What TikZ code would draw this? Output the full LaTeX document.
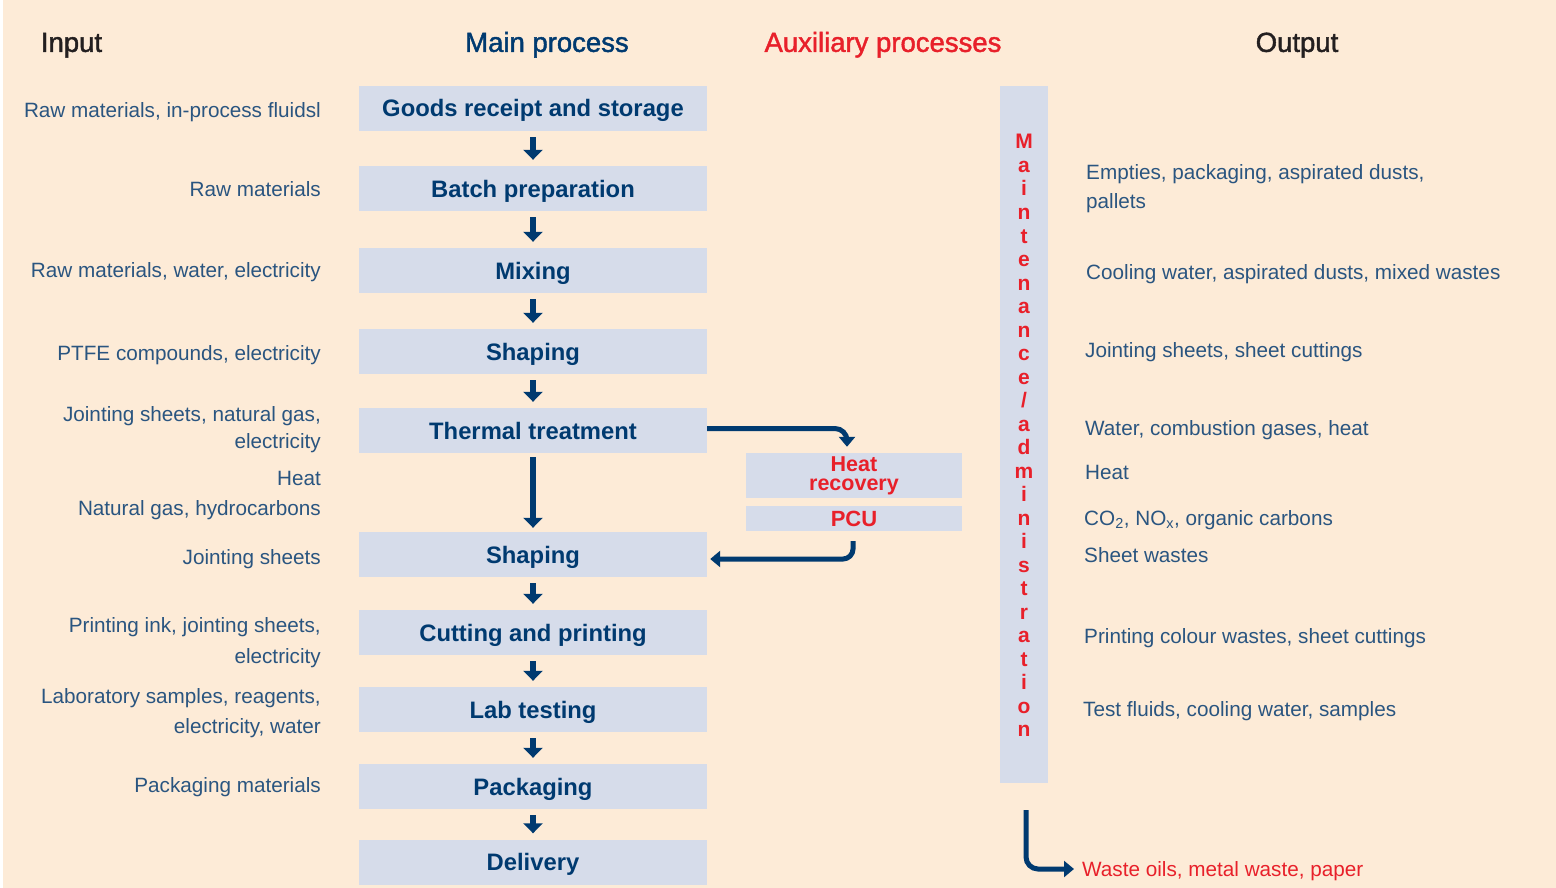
\documentclass[tikz,border=0pt]{standalone}
\usepackage{fontspec}
\setmainfont{Liberation Sans}
\newfontfamily\headfont[FakeBold=1.6]{Liberation Sans}
\usetikzlibrary{arrows.meta}
\definecolor{bgc}{RGB}{253,235,215}
\definecolor{boxc}{RGB}{214,220,234}
\definecolor{navy}{RGB}{0,58,112}
\definecolor{redc}{RGB}{232,32,42}
\definecolor{lblc}{RGB}{42,85,128}
\definecolor{headc}{RGB}{35,31,32}
\begin{document}
\begin{tikzpicture}[x=1pt,y=-1pt,
  box/.style={fill=boxc, minimum width=348pt, minimum height=45pt, inner sep=0pt, text=navy,
    font=\bfseries\fontsize{23.8}{28}\selectfont, text height=17pt, text depth=0pt},
  inl/.style={anchor=east, inner sep=0pt, text=lblc, font=\fontsize{20.7}{24}\selectfont,
    text height=14.8pt, text depth=0pt},
  outl/.style={inl, anchor=west},
  head/.style={inner sep=0pt, font=\headfont\fontsize{27.5}{32}\selectfont, text height=19.7pt, text depth=0pt},
  arr/.style={draw=navy, line width=6pt, -{Triangle[width=19pt,length=10pt]}},
  arrb/.style={draw=navy, line width=5pt, -{Triangle[width=16pt,length=10pt]}},
  auxbox/.style={fill=boxc, minimum width=216pt, inner sep=0pt, text=redc, align=center},
  letter/.style={anchor=base, inner sep=0pt, text=redc, font=\bfseries\fontsize{21}{24}\selectfont},
]
\useasboundingbox (0,0) rectangle (1556,888);
\fill[white] (0,0) rectangle (1556,888);
\fill[bgc] (3,0) rectangle (1556,888);

% headers
\node[head, text=headc] (hin) at (71.5,42) {Input};
\node[head, text=navy] (hmain) at (547,42) {Main process};
\node[head, text=redc] (haux) at (883,42) {Auxiliary processes};
\node[head, text=headc] (hout) at (1297,42) {Output};

% main process boxes
\node[box] (goods) at (533,108.5) {Goods receipt and storage};
\node[box] (batch) at (533,188.5) {Batch preparation};
\node[box] (mix) at (533,270.5) {Mixing};
\node[box] (shape1) at (533,351.5) {Shaping};
\node[box] (thermal) at (533,430.5) {Thermal treatment};
\node[box] (shape2) at (533,554.5) {Shaping};
\node[box] (cut) at (533,632.5) {Cutting and printing};
\node[box] (lab) at (533,709.5) {Lab testing};
\node[box] (pack) at (533,786.5) {Packaging};
\node[box] (deliv) at (533,862) {Delivery};

% arrows main
\draw[arr] ([yshift=-6pt]goods.south) -- ([yshift=6pt]batch.north);
\draw[arr] ([yshift=-6pt]batch.south) -- ([yshift=6pt]mix.north);
\draw[arr] ([yshift=-6pt]mix.south) -- ([yshift=6pt]shape1.north);
\draw[arr] ([yshift=-6pt]shape1.south) -- ([yshift=6pt]thermal.north);
\draw[arr] ([yshift=-4pt]thermal.south) -- ([yshift=4pt]shape2.north);
\draw[arr] ([yshift=-6pt]shape2.south) -- ([yshift=6pt]cut.north);
\draw[arr] ([yshift=-6pt]cut.south) -- ([yshift=6pt]lab.north);
\draw[arr] ([yshift=-6pt]lab.south) -- ([yshift=6pt]pack.north);
\draw[arr] ([yshift=-6pt]pack.south) -- ([yshift=6pt]deliv.north);

% auxiliary
\node[auxbox, minimum height=45pt, font=\bfseries\fontsize{21.5}{19}\selectfont] (heat) at (854,475.5) {Heat\\recovery};
\node[auxbox, minimum height=25pt, font=\bfseries\fontsize{22}{24}\selectfont, text height=15.8pt, text depth=0pt] (pcu) at (854,518.5) {PCU};
\draw[arrb, rounded corners=12pt] ([yshift=2pt]thermal.east) -| ([xshift=-7pt,yshift=6pt]heat.north);
\draw[arrb, rounded corners=10pt] ([xshift=-1pt,yshift=-10pt]pcu.south) |- ([xshift=3pt,yshift=-4.5pt]shape2.east);

% maintenance
\node[fill=boxc, minimum width=48pt, minimum height=697pt, inner sep=0pt] (maint) at (1024,434.5) {};
\foreach \c [count=\i] in {M,a,i,n,t,e,n,a,n,c,e,/,a,d,m,i,n,i,s,t,r,a,t,i,o,n}
  \node[letter] (m\i) at (1024,{149+23.5*(\i-1)}) {\c};

% inputs
\node[inl] (i1) at (321,110) {Raw materials, in-process fluidsl};
\node[inl] (i2) at (321,189) {Raw materials};
\node[inl] (i3) at (321,270) {Raw materials, water, electricity};
\node[inl] (i4) at (321,353) {PTFE compounds, electricity};
\node[inl] (i5a) at (321,414) {Jointing sheets, natural gas,};
\node[inl] (i5b) at (321,441) {electricity};
\node[inl] (i6) at (321,478) {Heat};
\node[inl] (i7) at (321,508) {Natural gas, hydrocarbons};
\node[inl] (i8) at (321,557) {Jointing sheets};
\node[inl] (i9a) at (321,625) {Printing ink, jointing sheets,};
\node[inl] (i9b) at (321,656) {electricity};
\node[inl] (i10a) at (321,696) {Laboratory samples, reagents,};
\node[inl] (i10b) at (321,726) {electricity, water};
\node[inl] (i11) at (321,785) {Packaging materials};

% outputs
\node[outl] (o1a) at (1086,172) {Empties, packaging, aspirated dusts,};
\node[outl] (o1b) at (1086,201) {pallets};
\node[outl] (o2) at (1086,272) {Cooling water, aspirated dusts, mixed wastes};
\node[outl] (o3) at (1085,350) {Jointing sheets, sheet cuttings};
\node[outl] (o4) at (1085,428) {Water, combustion gases, heat};
\node[outl] (o5) at (1085,472) {Heat};
\node[outl] (o6) at (1084,518) {CO\textsubscript{2}, NO\textsubscript{x}, organic carbons};
\node[outl] (o7) at (1084,555) {Sheet wastes};
\node[outl] (o8) at (1084,636) {Printing colour wastes, sheet cuttings};
\node[outl] (o9) at (1083,709) {Test fluids, cooling water, samples};
\node[outl, text=redc] (waste) at (1082,869) {Waste oils, metal waste, paper};

\draw[arrb, rounded corners=12pt] ([xshift=2pt,yshift=-27pt]maint.south) |- ([xshift=-8pt]waste.west);
\end{tikzpicture}
\end{document}
